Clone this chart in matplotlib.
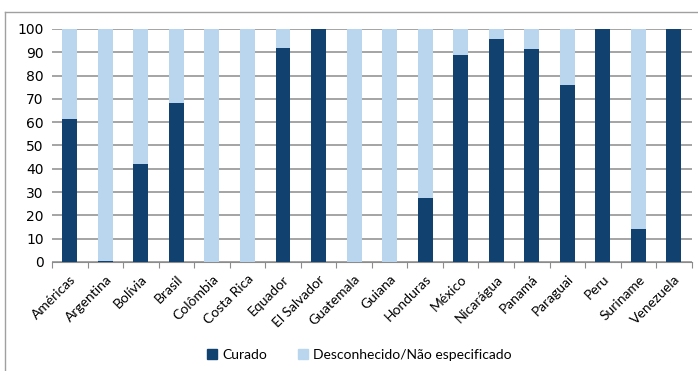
import matplotlib.pyplot as plt
import numpy as np
from matplotlib.lines import Line2D

# percentage of cases by outcome, per country
countries = ['Américas', 'Argentina', 'Bolívia', 'Brasil', 'Colômbia', 'Costa Rica',
             'Equador', 'El Salvador', 'Guatemala', 'Guiana', 'Honduras', 'México',
             'Nicarágua', 'Panamá', 'Paraguai', 'Peru', 'Suriname', 'Venezuela']
curado = [61.5, 0.5, 42, 68, 0, 0, 92, 100, 0, 0, 27.3, 89, 95.6, 91.6, 76, 100, 14.3, 100]
desconhecido = [100 - v for v in curado]

dark = '#10416F'
light = '#BAD5EE'

fig = plt.figure(figsize=(6.98, 3.71), dpi=100)
ax = fig.add_axes([0.0745, 0.294, 0.9165, 0.628])

x = np.arange(len(countries))
cur = np.array(curado)
des = np.array(desconhecido)
# skip empty segments so they don't leave a hairline at the baseline
ax.bar(x[cur > 0], cur[cur > 0], width=0.42, color=dark, linewidth=0, zorder=3)
ax.bar(x[des > 0], des[des > 0], width=0.42, bottom=cur[des > 0], color=light,
       linewidth=0, zorder=3)

ax.set_xlim(-0.5, len(countries) - 0.5)
ax.set_ylim(0, 100)
ax.set_yticks(range(0, 101, 10))
ax.yaxis.grid(True, color='#8c8c8c', linewidth=1.1, zorder=0)
ax.tick_params(axis='y', length=0, labelsize=10, pad=6)

# ticks sit between categories
ax.set_xticks(np.arange(-0.5, len(countries), 1.0))
ax.set_xticklabels([])
ax.set_xticks(x, minor=True)
ax.set_xticklabels(countries, minor=True, rotation=45, ha='right',
                   rotation_mode='anchor', fontsize=10, family='Lato')
ax.tick_params(axis='x', which='major', length=4, color='#8c8c8c')
ax.tick_params(axis='x', which='minor', length=0, pad=8)

for side in ['top', 'right', 'left']:
    ax.spines[side].set_visible(False)
ax.spines['bottom'].set_color('#8c8c8c')

# outer frame lines
fig.add_artist(Line2D([5 / 698, 1.0], [1 - 12 / 371] * 2, color='#a0a0a0', lw=1))
fig.add_artist(Line2D([5 / 698] * 2, [0.0, 1 - 12 / 371], color='#a0a0a0', lw=1))

handles = [plt.Rectangle((0, 0), 1, 1, color=dark), plt.Rectangle((0, 0), 1, 1, color=light)]
fig.legend(handles, ['Curado', 'Desconhecido/Não especificado'], loc='center',
           bbox_to_anchor=(0.515, 0.043), ncol=2, frameon=False,
           prop={'family': 'Lato', 'size': 10}, handlelength=0.7, handleheight=0.7,
           columnspacing=2.2, handletextpad=0.4)

fig.savefig('out.png', dpi=100)
